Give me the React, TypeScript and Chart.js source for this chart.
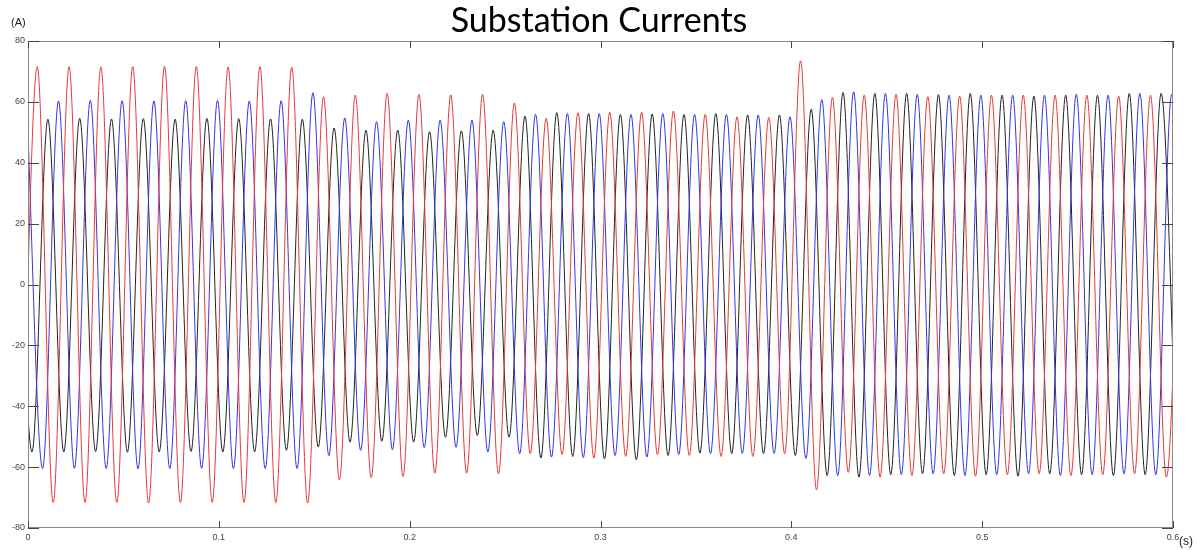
import React, { useEffect, useRef } from "react";
import { Chart, registerables } from "chart.js";

Chart.register(...registerables);

// ---- data ----
// Supply frequency 60 Hz -> one extremum every half cycle
const HALF_PERIOD_S = 1 / 120;

const xTickValues = [0, 0.1, 0.2, 0.3, 0.4, 0.5, 0.6];
const yTickValues = [-80, -60, -40, -20, 0, 20, 40, 60, 80];

// Phase A (red): first extremum is a trough at t = -0.00347 s
const redFirstTime = -0.00347;
const redFirstIsPeak = false;
const redTroughs = [
  -71.7, -71.7, -71.6, -71.7, -71.8, -71.7, -71.6, -71.7, -71.7, -71.8,
  -64.2, -63.5, -63.1, -62.0, -62.0, -62.2, -55.6, -55.9, -57.0, -56.5,
  -55.9, -56.2, -56.5, -56.5, -55.6, -67.5, -61.7, -63.3, -62.8, -62.2,
  -63.0, -62.5, -62.2, -62.8, -62.5, -62.2, -63.3,
];
const redPeaks = [
  71.6, 71.6, 71.5, 71.6, 71.7, 71.6, 71.5, 71.6, 71.4,
  61.7, 62.2, 62.8, 62.5, 62.3, 62.5, 59.6, 54.6, 56.4, 56.6,
  56.6, 57.0, 55.9, 55.1, 54.9, 73.5, 61.5, 62.2, 62.5, 61.7,
  61.9, 62.2, 62.2, 62.2, 62.2, 61.9, 62.2, 62.2,
];

// Phase B (black): first extremum is a peak at t = -0.00624 s
const blackFirstTime = -0.00624;
const blackFirstIsPeak = true;
const blackPeaks = [
  54.5, 54.3, 54.6, 54.4, 54.5, 54.3, 54.6, 54.5, 54.4,
  54.3, 51.4, 50.7, 50.7, 50.2, 50.5, 50.7, 55.3, 56.5, 56.2,
  55.9, 56.0, 55.9, 56.2, 55.7, 55.7, 57.6, 63.1, 62.8, 62.8,
  62.4, 62.8, 62.2, 61.9, 62.2, 62.2, 62.8, 62.8,
];
const blackTroughs = [
  -55.0, -55.0, -54.9, -55.1, -55.0, -54.9, -55.0, -55.0,
  -54.5, -53.4, -51.8, -51.5, -51.8, -50.2, -49.6, -50.2, -57.0, -56.5,
  -57.3, -57.6, -56.2, -55.4, -55.6, -55.6, -56.2, -62.8, -63.3, -62.5,
  -62.2, -62.8, -62.5, -63.0, -62.2, -62.5, -62.8, -62.5, -62.5,
];

// Phase C (blue): first extremum is a peak at t = -0.00069 s
const blueFirstTime = -0.00069;
const blueFirstIsPeak = true;
const bluePeaks = [
  60.4, 60.3, 60.5, 60.4, 60.3, 60.4, 60.5, 60.3, 60.4,
  63.0, 54.7, 53.5, 54.0, 54.0, 54.0, 53.5, 55.9, 56.2, 56.2,
  55.9, 56.2, 55.9, 55.9, 55.7, 55.1, 60.8, 63.3, 62.8, 62.5,
  62.2, 62.2, 62.2, 62.2, 62.5, 62.2, 62.8, 62.5,
];
const blueTroughs = [
  -60.5, -60.4, -60.5, -60.6, -60.5, -60.4, -60.5, -60.5, -60.5,
  -56.2, -54.5, -54.3, -53.6, -53.5, -55.0, -55.6, -56.7, -56.9, -56.2,
  -56.7, -55.9, -55.6, -55.5, -55.5, -57.2, -62.8, -62.8, -62.5, -62.2,
  -62.8, -62.5, -62.2, -62.8, -62.5, -62.2, -62.5, -62.5,
];

function buildSeries(t0: number, firstIsPeak: boolean, peaks: number[], troughs: number[]) {
  const pts: { x: number; y: number }[] = [];
  const n = peaks.length + troughs.length;
  let pi = 0;
  let ti = 0;
  for (let i = 0; i < n; i++) {
    const isPeak = (i % 2 === 0) === firstIsPeak;
    const y = isPeak ? peaks[pi++] : troughs[ti++];
    if (y === undefined) break;
    pts.push({ x: t0 + i * HALF_PERIOD_S, y });
  }
  return pts;
}

const framePlugin = {
  id: "frame",
  afterDatasetsDraw(chart: any) {
    const { ctx, chartArea, scales } = chart;
    const { left, top, right, bottom } = chartArea;
    const xs = scales.x;
    const ys = scales.y;
    ctx.save();
    ctx.lineWidth = 1;
    ctx.strokeStyle = "#8a8a8a";
    ctx.strokeRect(Math.round(left) + 0.5, Math.round(top) + 0.5, Math.round(right - left) - 1, Math.round(bottom - top) - 1);
    ctx.strokeStyle = "#444";
    ctx.beginPath();
    for (const v of xTickValues) {
      const px = Math.round(xs.getPixelForValue(v)) + 0.5;
      ctx.moveTo(px, bottom);
      ctx.lineTo(px, bottom - 7);
      ctx.moveTo(px, top);
      ctx.lineTo(px, top + 7);
    }
    for (const v of yTickValues) {
      const py = Math.round(ys.getPixelForValue(v)) + 0.5;
      ctx.moveTo(left, py);
      ctx.lineTo(left + 11, py);
      ctx.moveTo(right, py);
      ctx.lineTo(right - 11, py);
    }
    ctx.stroke();
    ctx.restore();
  },
  afterDraw(chart: any) {
    const { ctx } = chart;
    ctx.save();
    ctx.fillStyle = "#222";
    ctx.font = '11px "Liberation Sans", Arial, sans-serif';
    ctx.textBaseline = "middle";
    ctx.textAlign = "left";
    ctx.fillText("(A)", 11, 23);
    ctx.font = '12px "Liberation Sans", Arial, sans-serif';
    ctx.fillText("(s)", 1179, 542);
    ctx.restore();
  },
};

export default function App() {
  const canvasRef = useRef<HTMLCanvasElement | null>(null);

  useEffect(() => {
    const canvas = canvasRef.current;
    if (!canvas) return;
    const chart = new Chart(canvas, {
      type: "line",
      data: {
        datasets: [
          {
            label: "Phase A",
            data: buildSeries(redFirstTime, redFirstIsPeak, redPeaks, redTroughs),
            borderColor: "rgb(232, 56, 56)",
            borderWidth: 1,
            pointRadius: 0,
            cubicInterpolationMode: "monotone",
            fill: false,
          },
          {
            label: "Phase C",
            data: buildSeries(blueFirstTime, blueFirstIsPeak, bluePeaks, blueTroughs),
            borderColor: "rgb(52, 52, 228)",
            borderWidth: 1,
            pointRadius: 0,
            cubicInterpolationMode: "monotone",
            fill: false,
          },
          {
            label: "Phase B",
            data: buildSeries(blackFirstTime, blackFirstIsPeak, blackPeaks, blackTroughs),
            borderColor: "rgb(34, 34, 34)",
            borderWidth: 1,
            pointRadius: 0,
            cubicInterpolationMode: "monotone",
            fill: false,
          },
        ],
      },
      options: {
        animation: false,
        responsive: false,
        devicePixelRatio: 1,
        layout: { padding: 0 },
        plugins: {
          legend: { display: false },
          tooltip: { enabled: false },
          title: {
            display: true,
            text: "Substation Currents",
            color: "#000",
            font: { family: "Lato, 'Liberation Sans', sans-serif", size: 34, weight: "normal", lineHeight: "36px" },
            padding: { top: 3, bottom: 2 },
          },
        },
        scales: {
          x: {
            type: "linear",
            min: 0,
            max: 0.6,
            grid: { display: false, drawTicks: false },
            border: { display: false },
            afterBuildTicks: (scale: any) => {
              scale.ticks = xTickValues.map((v) => ({ value: v }));
            },
            ticks: {
              font: { family: "'Liberation Sans', Arial, sans-serif", size: 9 },
              color: "#444",
              padding: 4,
              maxRotation: 0,
              autoSkip: false,
              callback: (v: any) => String(Number(Number(v).toFixed(1))),
            },
            afterFit: (scale: any) => {
              scale.height = 22;
            },
          },
          y: {
            type: "linear",
            position: "left",
            min: -80,
            max: 80,
            grid: { display: false, drawTicks: false },
            border: { display: false },
            afterBuildTicks: (scale: any) => {
              scale.ticks = yTickValues.map((v) => ({ value: v }));
            },
            ticks: {
              font: { family: "'Liberation Sans', Arial, sans-serif", size: 9 },
              color: "#444",
              padding: 3,
              autoSkip: false,
            },
            afterFit: (scale: any) => {
              scale.width = 28;
            },
          },
          yRight: {
            type: "linear",
            position: "right",
            min: -80,
            max: 80,
            grid: { display: false, drawTicks: false },
            border: { display: false },
            ticks: { display: false },
            afterFit: (scale: any) => {
              scale.width = 25;
            },
          },
        },
      },
      plugins: [framePlugin],
    });
    return () => chart.destroy();
  }, []);

  return (
    <div style={{ position: "fixed", left: 0, top: 0, width: 1198, height: 550, background: "#fff" }}>
      <canvas ref={canvasRef} width={1198} height={550} style={{ display: "block" }} />
    </div>
  );
}
